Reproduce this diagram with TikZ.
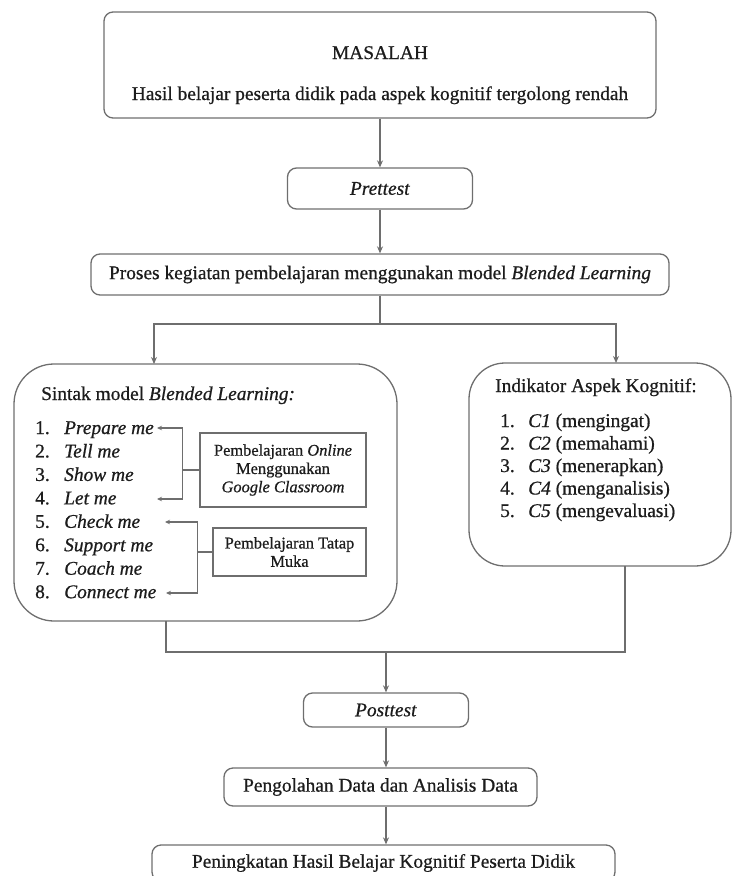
\documentclass[tikz,border=0pt]{standalone}
\usepackage{fontspec}
\setmainfont{Liberation Serif}[FakeBold=0.7]
\usetikzlibrary{arrows.meta}
\definecolor{garis}{HTML}{6E6E6E}
\definecolor{huruf}{HTML}{1C1C1C}

\begin{document}
\begin{tikzpicture}[x=1pt,y=-1pt,
  kotak/.style={draw=garis,line width=1.3pt,rounded corners=9pt,inner sep=0pt,text=huruf,
    font=\fontsize{19.4}{22}\selectfont,align=center},
  besar/.style={draw=garis,line width=1.3pt,rounded corners=40pt,inner sep=0pt},
  kecil/.style={draw=garis,line width=1.1pt,inner sep=0pt,text=huruf,
    font=\fontsize{16.4}{18.3}\selectfont,align=center},
  tulis/.style={inner sep=0pt,anchor=base west,text=huruf,font=\fontsize{19.4}{22}\selectfont},
  garis/.style={draw=garis,line width=1.3pt},
  panah/.style={draw=garis,line width=1.3pt,-{Stealth[length=7pt,width=6pt]}},
  panahkecil/.style={draw=garis,line width=1.1pt,-{Stealth[length=5pt,width=4.5pt]}}]
  \useasboundingbox (0,0) rectangle (733,876);
  \clip (0,0) rectangle (733,876);

  \node[kotak,minimum width=552pt,minimum height=106pt] (masalah) at (380,65) {};
  \node[tulis,anchor=base] (judul) at (380,59) {MASALAH};
  \node[tulis,anchor=base] (hasil) at (380,100) {Hasil belajar peserta didik pada aspek kognitif tergolong rendah};
  \node[kotak,minimum width=185pt,minimum height=41pt] (pre) at (380,188.5) {\textit{Prettest}};
  \node[kotak,minimum width=578pt,minimum height=41pt] (proses) at (380,274.5)
    {Proses kegiatan pembelajaran menggunakan model \textit{Blended Learning}};

  \node[besar,minimum width=383pt,minimum height=257pt] (sintak) at (205.5,492.5) {};
  \node[besar,rounded corners=36pt,minimum width=262pt,minimum height=203pt] (indikator) at (600,464.5) {};

  \node[tulis] (judulsintak) at (41,400) {Sintak model \textit{Blended Learning:}};
  \foreach \k/\t in {1/Prepare me,2/Tell me,3/Show me,4/Let me,5/Check me,6/Support me,7/Coach me,8/Connect me}{
    \node[tulis] (n\k) at (35,{434+23.45*(\k-1)}) {\k.};
    \node[tulis] (s\k) at (64,{434+23.45*(\k-1)}) {\textit{\t}};
  }
  \node[kecil,minimum width=166pt,minimum height=74pt] (online) at (283,470)
    {Pembelajaran \textit{Online}\\Menggunakan\\\textit{Google Classroom}};
  \node[kecil,minimum width=153pt,minimum height=48pt] (tatap) at (289.5,552)
    {Pembelajaran Tatap\\Muka};
  \coordinate (a1) at (157,428);
  \coordinate (a4) at (157,499);
  \coordinate (a5) at (165,522);
  \coordinate (a8) at (166,593);
  \draw[panahkecil] (online.west) -- ++(-17,0) |- (a1);
  \draw[panahkecil] (online.west) -- ++(-17,0) |- (a4);
  \draw[panahkecil] (tatap.west) -- ++(-15,0) |- (a5);
  \draw[panahkecil] (tatap.west) -- ++(-15,0) |- (a8);

  \node[tulis] (judulind) at (495,392) {Indikator Aspek Kognitif:};
  \foreach \k/\t in {1/mengingat,2/memahami,3/menerapkan,4/menganalisis,5/mengevaluasi}{
    \node[tulis] (m\k) at (500,{427+22.5*(\k-1)}) {\k.};
    \node[tulis] (c\k) at (528,{427+22.5*(\k-1)}) {\textit{C\k} (\t)};
  }

  \node[kotak,minimum width=165pt,minimum height=34pt] (post) at (386,710) {\textit{Posttest}};
  \node[kotak,minimum width=313pt,minimum height=38pt] (olah) at (380.5,787)
    {Pengolahan Data dan Analisis Data};
  \node[kotak,minimum width=463pt,minimum height=36pt] (akhir) at (383.5,863)
    {Peningkatan Hasil Belajar Kognitif Peserta Didik};

  \draw[panah] (masalah) -- (pre);
  \draw[panah] (pre) -- (proses);
  \coordinate (jt) at (380,324);
  \coordinate (sl) at (154,364);
  \coordinate (sr) at (616,363);
  \draw[garis] (proses) -- (jt);
  \draw[panah] (jt) -| (sl);
  \draw[panah] (jt) -| (sr);

  \coordinate (bl) at (166,621);
  \coordinate (br) at (625,566);
  \coordinate (jb) at (386,652);
  \draw[garis] (bl) |- (jb) -| (br);
  \draw[panah] (jb) -- (post);
  \draw[panah] (post) -- (post |- olah.north);
  \draw[panah] (post |- olah.south) -- (post |- akhir.north);
\end{tikzpicture}
\end{document}
